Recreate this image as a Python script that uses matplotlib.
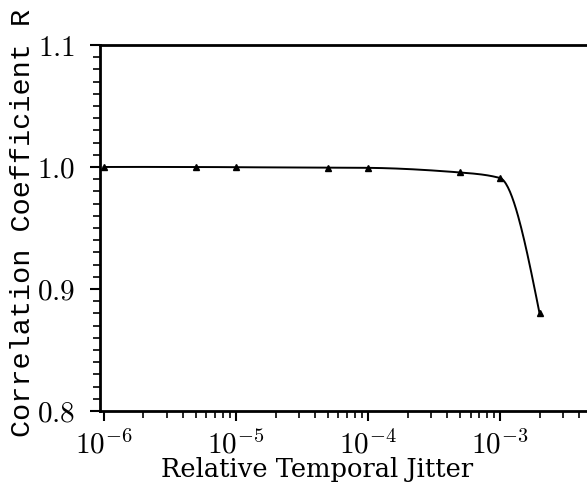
import numpy as np
import matplotlib
matplotlib.use("Agg")
import matplotlib.pyplot as plt
from matplotlib.ticker import FixedLocator, FuncFormatter

plt.rcParams['mathtext.fontset'] = 'cm'
plt.rcParams['font.family'] = 'DejaVu Serif'

# data
jitter = [1e-6, 5e-6, 1e-5, 5e-5, 1e-4, 5e-4, 1e-3, 2e-3]
corr = [1.0, 1.0, 0.9998, 0.9995, 0.9993, 0.9955, 0.991, 0.88]
xticks = [1e-6, 1e-5, 1e-4, 1e-3]
xticklabels = ['$10^{-6}$', '$10^{-5}$', '$10^{-4}$', '$10^{-3}$']
yticks = [0.8, 0.9, 1.0, 1.1]


def smooth(xs, ys, n=40):
    # monotone cubic (pchip) through the points in log-x, just for drawing the line
    x = np.log10(xs)
    y = np.array(ys, dtype=float)
    h = np.diff(x)
    d = np.diff(y) / h
    m = np.zeros_like(y)
    for k in range(1, len(y) - 1):
        if d[k - 1] * d[k] > 0:
            w1 = 2 * h[k] + h[k - 1]
            w2 = h[k] + 2 * h[k - 1]
            m[k] = (w1 + w2) / (w1 / d[k - 1] + w2 / d[k])
    m[0] = ((2 * h[0] + h[1]) * d[0] - h[0] * d[1]) / (h[0] + h[1])
    m[-1] = ((2 * h[-1] + h[-2]) * d[-1] - h[-1] * d[-2]) / (h[-1] + h[-2])
    ox, oy = [], []
    for k in range(len(h)):
        t = np.linspace(0, 1, n)
        h00 = 2 * t ** 3 - 3 * t ** 2 + 1
        h10 = t ** 3 - 2 * t ** 2 + t
        h01 = -2 * t ** 3 + 3 * t ** 2
        h11 = t ** 3 - t ** 2
        ox.append(x[k] + t * h[k])
        oy.append(h00 * y[k] + h10 * h[k] * m[k] + h01 * y[k + 1] + h11 * h[k] * m[k + 1])
    return 10 ** np.concatenate(ox), np.concatenate(oy)


fig = plt.figure(figsize=(5.87, 4.84), dpi=100)
ax = fig.add_axes([0.170, 0.151, 0.84, 0.756])

sx, sy = smooth(jitter, corr)
ax.plot(sx, sy, color='black', lw=1.4)
ax.plot(jitter, corr, linestyle='none', marker='^', color='black', markersize=5)

ax.set_xscale('log')
ax.set_xlim(10 ** -6.03, 10 ** -2.295)
ax.set_ylim(0.8, 1.1)

ax.xaxis.set_major_locator(FixedLocator(xticks))
ax.xaxis.set_major_formatter(FuncFormatter(lambda v, p: xticklabels[xticks.index(v)] if v in xticks else ''))
ax.set_yticks(yticks)
ax.yaxis.set_major_formatter(FuncFormatter(lambda v, p: '$%.1f$' % v))
ax.yaxis.set_minor_locator(FixedLocator(np.arange(0.8, 1.1, 0.01)))

ax.tick_params(which='major', direction='out', length=7, width=1.5, labelsize=21)
ax.tick_params(which='minor', direction='out', length=5, width=1.2)
ax.tick_params(axis='y', which='major', pad=11)
ax.tick_params(axis='x', which='major', pad=7)

for s in ['left', 'bottom', 'top']:
    ax.spines[s].set_linewidth(2)
ax.spines['right'].set_visible(False)

fig.text(317 / 587, 1 - 470 / 484, 'Relative Temporal Jitter', ha='center', va='center',
         fontsize=18.5)
fig.text(23 / 587, 1 - 223 / 484, 'Correlation Coefficient R', rotation=90,
         ha='center', va='center', fontsize=20.5, family='Liberation Mono')

fig.savefig('out.png', dpi=100)
